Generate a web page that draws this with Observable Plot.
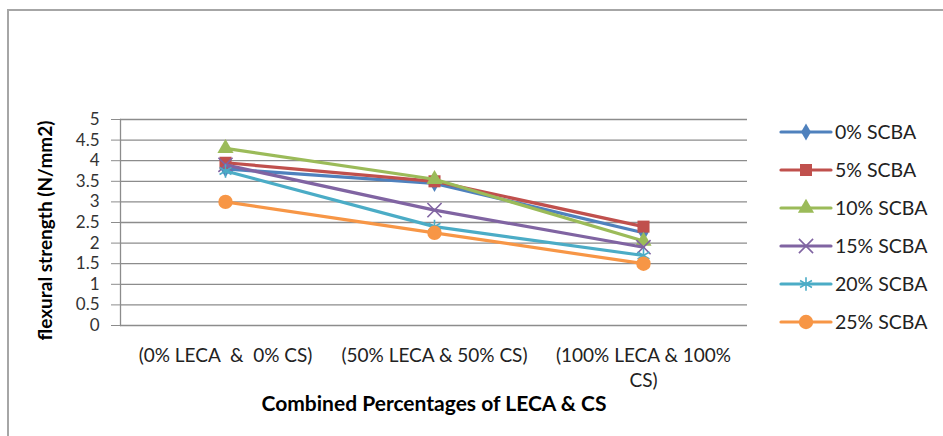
<!DOCTYPE html>
<html>
<head>
<meta charset="utf-8">
<script src="https://cdn.jsdelivr.net/npm/d3@7"></script>
<script src="https://cdn.jsdelivr.net/npm/@observablehq/plot@0.6"></script>
<style>
  html, body { margin: 0; padding: 0; background: #fff; }
  #wrap { position: relative; width: 943px; height: 436px; overflow: hidden; font-family: Lato, "Open Sans", sans-serif; }
  #frame { position: absolute; left: 7px; top: 9px; width: 960px; height: 460px; border: 2px solid #a6a6a6; box-sizing: border-box; }
  #chart { position: absolute; left: 0; top: 0; }
  #legend { position: absolute; left: 0; top: 0; }
  #chart text { white-space: pre; }
</style>
</head>
<body>
<div id="wrap">
  <div id="frame"></div>
  <div id="chart"></div>
  <div id="legend"></div>
</div>
<script>
// ---- data ----
const categories = ["(0% LECA  &  0% CS)", "(50% LECA & 50% CS)", "(100% LECA & 100%\nCS)"];
const seriesNames = ["0% SCBA", "5% SCBA", "10% SCBA", "15% SCBA", "20% SCBA", "25% SCBA"];
const s0  = [3.80, 3.45, 2.25];
const s5  = [3.95, 3.50, 2.40];
const s10 = [4.30, 3.55, 2.05];
const s15 = [3.90, 2.80, 1.90];
const s20 = [3.75, 2.40, 1.70];
const s25 = [3.00, 2.25, 1.50];
const seriesValues = [s0, s5, s10, s15, s20, s25];
const colors = ["#4F81BD", "#C0504D", "#9BBB59", "#8064A2", "#4BACC6", "#F79646"];
const symbols = ["diamond", "square", "triangle", "times", "asterisk", "circle"];
const filled = [true, true, true, false, false, true];
const yTicks = [0, 0.5, 1, 1.5, 2, 2.5, 3, 3.5, 4, 4.5, 5];
const yTickLabels = ["0", "0.5", "1", "1.5", "2", "2.5", "3", "3.5", "4", "4.5", "5"];
const yTitle = "flexural strength (N/mm2)";
const xTitle = "Combined Percentages of LECA & CS";

const FONT = "Lato, 'Open Sans', sans-serif";
const sizes = {diamond: 5.2, square: 6.8, triangle: 6.0, times: 6.5, asterisk: 6.5, circle: 7.2};

const rows = [];
seriesNames.forEach((name, i) => {
  seriesValues[i].forEach((v, j) => rows.push({series: name, idx: i, cat: categories[j], value: v}));
});

const marks = [
  Plot.gridY(yTicks, {stroke: "#8c8c8c", strokeOpacity: 1, strokeWidth: 1.3}),
  Plot.frame({anchor: "left", stroke: "#8c8c8c", strokeWidth: 1.3}),
  Plot.axisY(yTicks, {
    tickFormat: (d) => yTickLabels[yTicks.indexOf(d)],
    tickSize: 9, tickPadding: 12, fontSize: 17, stroke: "#8c8c8c", fill: "#333", label: null
  }),
  Plot.axisX({tickSize: 0, tickPadding: 19, fontSize: 19, fill: "#222", label: null, lineHeight: 1.3}),
  Plot.text([yTitle], {frameAnchor: "left", textAnchor: "middle", rotate: -90, dx: -75, dy: 8, fontSize: 19, fontWeight: "bold", fill: "#000"}),
  Plot.text([xTitle], {frameAnchor: "bottom", dy: 85, fontSize: 21, fontWeight: "bold", fill: "#000"})
];

seriesNames.forEach((name, i) => {
  const data = rows.filter(r => r.idx === i);
  marks.push(Plot.line(data, {x: "cat", y: "value", stroke: colors[i], strokeWidth: 3.2, curve: "linear"}));
  marks.push(Plot.dot(data, {
    x: "cat", y: "value", symbol: () => symbols[i], r: sizes[symbols[i]],
    fill: filled[i] ? colors[i] : "none",
    stroke: colors[i], strokeWidth: filled[i] ? 0 : 1.6
  }));
});

const chart = Plot.plot({
  width: 943, height: 436,
  marginLeft: 120, marginRight: 196, marginTop: 119, marginBottom: 111,
  style: {fontFamily: FONT, background: "transparent", overflow: "visible"},
  x: {type: "point", domain: categories, padding: 0.5},
  y: {domain: [0, 5]},
  symbol: {type: "identity"},
  marks
});
document.getElementById("chart").appendChild(chart);

// ---- legend ----
const lx0 = 781, lx1 = 831, ltx = 835, ly0 = 132, lstep = 38;
const lsvg = d3.select("#legend").append("svg").attr("width", 943).attr("height", 436)
  .style("font-family", FONT);
const symMap = {diamond: d3.symbolDiamond, square: d3.symbolSquare, triangle: d3.symbolTriangle,
  times: d3.symbolTimes, asterisk: d3.symbolAsterisk, circle: d3.symbolCircle};
seriesNames.forEach((name, i) => {
  const y = ly0 + i * lstep;
  const g = lsvg.append("g");
  g.append("line").attr("x1", lx0).attr("x2", lx1).attr("y1", y).attr("y2", y)
    .attr("stroke", colors[i]).attr("stroke-width", 3.2).attr("stroke-linecap", "round");
  const r = sizes[symbols[i]];
  g.append("path").attr("transform", `translate(${(lx0 + lx1) / 2},${y})`)
    .attr("d", d3.symbol(symMap[symbols[i]], Math.PI * r * r)())
    .attr("fill", filled[i] ? colors[i] : "none")
    .attr("stroke", filled[i] ? "none" : colors[i]).attr("stroke-width", 1.6);
  g.append("text").attr("x", ltx).attr("y", y).attr("dy", "0.35em")
    .attr("font-size", 19.5).attr("fill", "#222").text(name);
});
</script>
</body>
</html>
